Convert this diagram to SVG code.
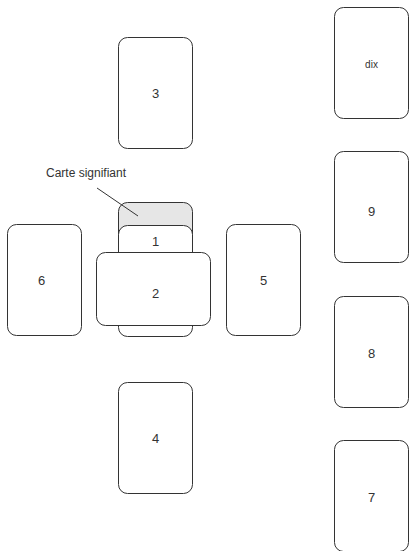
<svg xmlns="http://www.w3.org/2000/svg" width="409" height="551" viewBox="0 0 409 551">
<style>
.card{fill:#fff;stroke:#333;stroke-width:1}
.sig{fill:#e6e6e6;stroke:#333;stroke-width:1}
.lbl{font-family:"Liberation Sans",Arial,sans-serif;font-size:13px;fill:#333;text-anchor:middle}
.small{font-family:"Liberation Sans",Arial,sans-serif;font-size:10px;fill:#333;text-anchor:middle}
.note{font-family:"Liberation Sans",Arial,sans-serif;font-size:12px;fill:#333;text-anchor:middle}
</style>
<rect width="409" height="551" fill="#fff"/>
<g id="card-sig"><rect class="sig" x="118.5" y="202.5" width="74" height="111" rx="9"/></g>
<g id="card-1"><rect class="card" x="118.5" y="225.5" width="74" height="111" rx="9"/><text class="lbl" x="155.5" y="246">1</text></g>
<g id="card-2"><rect class="card" x="96.5" y="252.5" width="114" height="73" rx="9"/><text class="lbl" x="155.5" y="298">2</text></g>
<g id="card-3"><rect class="card" x="118.5" y="37.5" width="74" height="111" rx="9"/><text class="lbl" x="155.5" y="98">3</text></g>
<g id="card-4"><rect class="card" x="118.5" y="382.5" width="74" height="111" rx="9"/><text class="lbl" x="155.5" y="443">4</text></g>
<g id="card-5"><rect class="card" x="226.5" y="224.5" width="74" height="111" rx="9"/><text class="lbl" x="263.5" y="285">5</text></g>
<g id="card-6"><rect class="card" x="7.5" y="224.5" width="74" height="111" rx="9"/><text class="lbl" x="41.5" y="285">6</text></g>
<g id="card-dix"><rect class="card" x="334.5" y="7.5" width="74" height="111" rx="9"/><text class="small" x="371.5" y="68">dix</text></g>
<g id="card-9"><rect class="card" x="334.5" y="151.5" width="74" height="111" rx="9"/><text class="lbl" x="371.5" y="216">9</text></g>
<g id="card-8"><rect class="card" x="334.5" y="296.5" width="74" height="111" rx="9"/><text class="lbl" x="371.5" y="358">8</text></g>
<g id="card-7"><rect class="card" x="334.5" y="440.5" width="74" height="111" rx="9"/><text class="lbl" x="371.5" y="502">7</text></g>
<g id="connectors"><line x1="97" y1="188" x2="138" y2="216" stroke="#333" stroke-width="1"/></g>
<g id="label-sig"><text class="note" x="86" y="177">Carte signifiant</text></g>
</svg>
